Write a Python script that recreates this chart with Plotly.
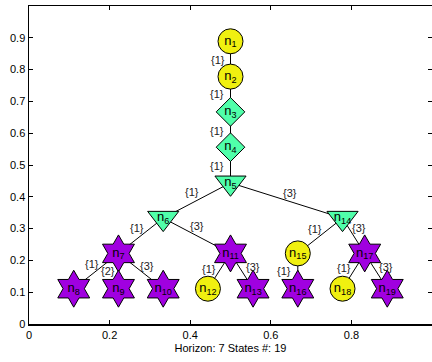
import plotly.graph_objects as go

# ---- data ----
node_names = [f"n{i}" for i in range(1, 20)]
node_x = [0.5, 0.5, 0.5, 0.5, 0.5, 0.333, 0.222, 0.111, 0.222, 0.333,
          0.5, 0.444, 0.556, 0.778, 0.667, 0.667, 0.833, 0.778, 0.889]
node_y = [0.889, 0.778, 0.667, 0.556, 0.444, 0.333, 0.222, 0.111, 0.111, 0.111,
          0.222, 0.111, 0.111, 0.333, 0.222, 0.111, 0.222, 0.111, 0.111]
node_kind = ["chance", "chance", "decision", "decision", "tri", "tri", "star", "star", "star", "star",
             "star", "chance", "star", "tri", "chance", "star", "star", "chance", "star"]

edge_from = [1, 2, 3, 4, 5, 5, 6, 6, 7, 7, 7, 11, 11, 14, 14, 15, 17, 17]
edge_to = [2, 3, 4, 5, 6, 14, 7, 11, 8, 9, 10, 12, 13, 15, 17, 16, 18, 19]
edge_label = ["{1}", "{1}", "{1}", "{1}", "{1}", "{3}", "{1}", "{3}", "{1}", "{2}", "{3}",
              "{1}", "{3}", "{1}", "{3}", "{1}", "{1}", "{3}"]

x_ticks = [0, 0.2, 0.4, 0.6, 0.8, 1]
y_ticks = [0, 0.1, 0.2, 0.3, 0.4, 0.5, 0.6, 0.7, 0.8, 0.9, 1]
x_title = "Horizon: 7 States #: 19"

# ---- styles ----
FONT = "Liberation Sans, Arial, sans-serif"
style = {
    "chance": dict(symbol="circle", size=25, color="#f0f010"),
    "decision": dict(symbol="diamond", size=22, color="#50ffaa"),
    "tri": dict(symbol="triangle-down", size=27, color="#50ffaa"),
    "star": dict(symbol="hexagram", size=28, color="#a000e0"),
}
# label pixel offsets (dx right, dy down) relative to edge midpoint
label_off = [(-13, 1), (-14, 0), (-14, 1), (-14, 1), (-5, -8), (3, -7), (-4, -8), (0, -10),
             (-4, -7), (-10, 0), (6, -5), (-10, -2), (11, -4), (-5, -7), (5, -8),
             (-14, 0), (-10, -3), (10, -4)]

fig = go.Figure()

# edges
ex, ey = [], []
for a, b in zip(edge_from, edge_to):
    ex += [node_x[a - 1], node_x[b - 1], None]
    ey += [node_y[a - 1], node_y[b - 1], None]
fig.add_trace(go.Scatter(x=ex, y=ey, mode="lines", line=dict(color="black", width=1),
                         hoverinfo="skip", showlegend=False))

# nodes
for kind in ["chance", "decision", "tri", "star"]:
    idx = [i for i, k in enumerate(node_kind) if k == kind]
    s = style[kind]
    fig.add_trace(go.Scatter(
        x=[node_x[i] for i in idx], y=[node_y[i] for i in idx],
        mode="markers+text",
        text=[f"n<sub>{i + 1}</sub>" for i in idx],
        textposition="middle center",
        textfont=dict(family=FONT, size=13, color="black"),
        marker=dict(symbol=s["symbol"], size=s["size"], color=s["color"],
                    line=dict(color="black", width=1)),
        showlegend=False, hoverinfo="skip"))

# edge labels
for (a, b), lab, (dx, dy) in zip(zip(edge_from, edge_to), edge_label, label_off):
    mx = (node_x[a - 1] + node_x[b - 1]) / 2
    my = (node_y[a - 1] + node_y[b - 1]) / 2
    fig.add_annotation(x=mx, y=my, text=lab, showarrow=False, xshift=dx, yshift=-dy,
                       font=dict(family=FONT, size=11, color="#222"))

axis_common = dict(showgrid=False, zeroline=False, showline=True, linecolor="black", linewidth=1.5,
                   ticks="inside", ticklen=4, tickcolor="black", mirror="ticks",
                   tickfont=dict(family=FONT, size=11, color="black"))

fig.update_layout(
    width=434, height=362,
    margin=dict(l=29, r=0, t=6, b=38),
    plot_bgcolor="white", paper_bgcolor="white",
    xaxis=dict(range=[0, 1], tickvals=x_ticks, ticktext=[str(v) for v in x_ticks],
               title=dict(text=x_title, standoff=4, font=dict(family=FONT, size=11, color="black")),
               **axis_common),
    yaxis=dict(range=[0, 1], tickvals=y_ticks, ticktext=[str(v) for v in y_ticks], **axis_common),
)

fig.write_html("out.html", config={"displayModeBar": False, "staticPlot": True},
               post_script="document.body.style.margin='0';document.body.style.overflow='hidden';")
